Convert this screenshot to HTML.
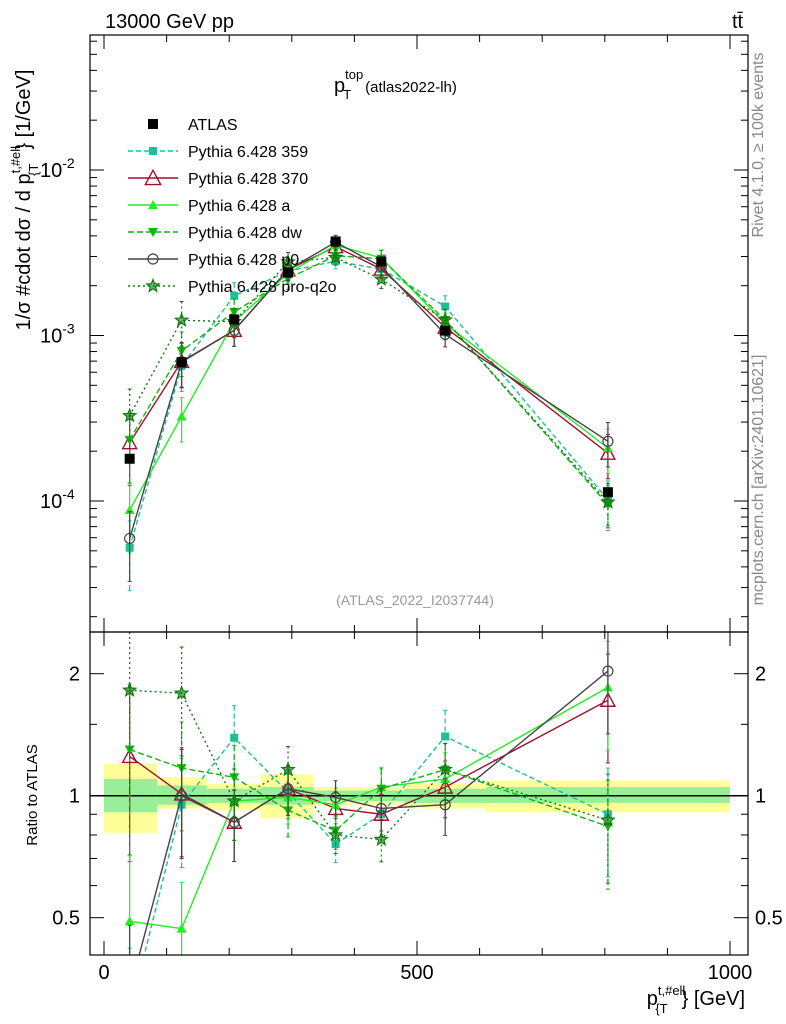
<!DOCTYPE html>
<html><head><meta charset="utf-8"><style>
html,body{margin:0;padding:0;background:#fff;width:786px;height:1024px;overflow:hidden;position:relative;}
svg{display:block;font-family:"Liberation Sans",sans-serif;}
</style></head><body>
<svg id="chart" style="position:absolute;left:0;top:0" width="786" height="1024" viewBox="0 0 786 1024" xmlns="http://www.w3.org/2000/svg"></svg>
<script>
const categories = [41, 124, 208, 294, 370, 443, 545, 805];
const binEdges = [0, 85, 165, 250, 335, 405, 480, 610, 1000];
const atlasValues = [1.8e-4, 6.9e-4, 1.25e-3, 2.4e-3, 3.7e-3, 2.8e-3, 1.07e-3, 1.13e-4];
const bandTotalUp = [1.20, 1.11, 1.07, 1.13, 1.05, 1.05, 1.07, 1.09];
const bandTotalDn = [0.81, 0.93, 0.92, 0.88, 0.95, 0.95, 0.93, 0.91];
const bandStatUp = [1.10, 1.06, 1.04, 1.05, 1.03, 1.03, 1.04, 1.05];
const bandStatDn = [0.91, 0.95, 0.96, 0.95, 0.97, 0.97, 0.96, 0.96];
const ratio359 = [0.29, 0.95, 1.39, 1.02, 0.76, 0.90, 1.40, 0.90];
const ratio370 = [1.25, 1.01, 0.86, 1.04, 0.93, 0.90, 1.05, 1.72];
const ratioA = [0.49, 0.47, 0.97, 0.99, 0.95, 1.05, 1.10, 1.85];
const ratioDw = [1.30, 1.17, 1.11, 0.92, 0.82, 1.04, 1.16, 0.84];
const ratioP0 = [0.33, 1.00, 0.86, 1.04, 0.99, 0.93, 0.95, 2.03];
const ratioQ2o = [1.82, 1.79, 0.97, 1.16, 0.80, 0.78, 1.16, 0.87];
const relErr = [0.45, 0.30, 0.20, 0.14, 0.10, 0.12, 0.16, 0.30];

const svg = document.getElementById('chart');
const NS = 'http://www.w3.org/2000/svg';
function mk(tag, attrs, parent){const e=document.createElementNS(NS,tag);for(const k in attrs)e.setAttribute(k,attrs[k]);(parent||svg).appendChild(e);return e;}
const L=90,R=748,T=35,MB=632,RB=955;
const xS = v => 104 + v*0.626;
const yMain = v => 170 - (Math.log10(v)+2)*165.5;
const yRat = r => 795.7 - Math.log2(r)*122;
const cl = (y,a,b) => Math.max(a, Math.min(b, y));

const defs = mk('defs',{});
const c1 = mk('clipPath',{id:'cm'},defs); mk('rect',{x:L,y:T,width:R-L,height:MB-T},c1);
const c2 = mk('clipPath',{id:'cr'},defs); mk('rect',{x:L,y:MB,width:R-L,height:RB-MB},c2);

const gBand = mk('g',{'clip-path':'url(#cr)'});


for(let i=0;i<categories.length;i++){
  const x0=xS(binEdges[i]),x1=xS(binEdges[i+1]);
  const r1=mk('rect',{x:x0,y:yRat(bandTotalUp[i]),width:x1-x0,height:yRat(bandTotalDn[i])-yRat(bandTotalUp[i]),fill:'#ffff99'},gBand);
  
  
  const r2=mk('rect',{x:x0,y:yRat(bandStatUp[i]),width:x1-x0,height:yRat(bandStatDn[i])-yRat(bandStatUp[i]),fill:'#99ee99'},gBand);
  
  
}
mk('line',{x1:L,x2:R,y1:yRat(1),y2:yRat(1),stroke:'#000','stroke-width':1.5});

const series = [
 {name:'Pythia 6.428 359',key:'series-359',r:ratio359,color:'#1fbf9a',dash:'5,3',marker:'square'},
 {name:'Pythia 6.428 370',key:'series-370',r:ratio370,color:'#a01030',dash:'',marker:'opentri'},
 {name:'Pythia 6.428 a',key:'series-a',r:ratioA,color:'#22ee22',dash:'',marker:'tri'},
 {name:'Pythia 6.428 dw',key:'series-dw',r:ratioDw,color:'#11b511',dash:'6,3',marker:'tridown'},
 {name:'Pythia 6.428 p0',key:'series-p0',r:ratioP0,color:'#444444',dash:'',marker:'circle'},
 {name:'Pythia 6.428 pro-q2o',key:'series-pro-q2o',r:ratioQ2o,color:'#117a11',dash:'2,3',marker:'star'}
];
function marker(g,type,x,y,c,s){
  s=s||1;
  if(type==='square') return mk('rect',{x:x-4*s,y:y-4*s,width:8*s,height:8*s,fill:c},g);
  if(type==='bsquare') return mk('rect',{x:x-5,y:y-5,width:10,height:10,fill:c},g);
  if(type==='opentri') return mk('polygon',{points:`${x},${y-7*s} ${x-7*s},${y+6*s} ${x+7*s},${y+6*s}`,fill:'none',stroke:c,'stroke-width':1.4},g);
  if(type==='tri') return mk('polygon',{points:`${x},${y-5*s} ${x-5*s},${y+4*s} ${x+5*s},${y+4*s}`,fill:c},g);
  if(type==='tridown') return mk('polygon',{points:`${x},${y+5*s} ${x-5*s},${y-4*s} ${x+5*s},${y-4*s}`,fill:c},g);
  if(type==='circle') return mk('circle',{cx:x,cy:y,r:5*s,fill:'none',stroke:c,'stroke-width':1.2},g);
  if(type==='star'){let p=[];for(let k=0;k<10;k++){const rr=k%2?2.8*s:6.5*s,a=-Math.PI/2+k*Math.PI/5;p.push((x+rr*Math.cos(a)).toFixed(1)+','+(y+rr*Math.sin(a)).toFixed(1));}
    return mk('polygon',{points:p.join(' '),fill:c,'fill-opacity':0.6,stroke:c,'stroke-width':1.2},g);}
}
series.forEach(s=>{
  ['main','ratio'].forEach(panel=>{
    const g=mk('g',{'clip-path':panel==='main'?'url(#cm)':'url(#cr)'});
    
    
    const lo = panel==='main'?T:MB, hi = panel==='main'?MB:RB;
    const pts=categories.map((c,i)=>{
      const v = atlasValues[i]*s.r[i];
      return panel==='main'?[xS(c),yMain(v),cl(yMain(v*(1+relErr[i])),lo,hi),cl(yMain(Math.max(v*(1-relErr[i]),1e-6)),lo,hi)]
                           :[xS(c),yRat(s.r[i]),cl(yRat(s.r[i]*(1+relErr[i])),lo,hi),cl(yRat(Math.max(s.r[i]*(1-relErr[i]),0.05)),lo,hi)];
    });
    pts.forEach(p=>{
      mk('line',{x1:p[0],x2:p[0],y1:p[2],y2:p[3],stroke:s.color,'stroke-width':1.2,'stroke-dasharray':s.dash},g);
      mk('line',{x1:p[0]-2,x2:p[0]+2,y1:p[2],y2:p[2],stroke:s.color},g);
      mk('line',{x1:p[0]-2,x2:p[0]+2,y1:p[3],y2:p[3],stroke:s.color},g);
    });
    mk('polyline',{points:pts.map(p=>p[0]+','+p[1]).join(' '),fill:'none',stroke:s.color,'stroke-width':1.4,'stroke-dasharray':s.dash},g);
    pts.forEach(p=>{ if(p[1]>=lo-8 && p[1]<=hi+8) marker(g,s.marker,p[0],p[1],s.color); });
  });
});

const gD=mk('g',{'clip-path':'url(#cm)'});


categories.forEach((c,i)=>marker(gD,'bsquare',xS(c),yMain(atlasValues[i]),'#000'));

mk('rect',{x:L,y:T,width:R-L,height:MB-T,fill:'none',stroke:'#000','stroke-width':1.2});
mk('rect',{x:L,y:MB,width:R-L,height:RB-MB,fill:'none',stroke:'#000','stroke-width':1.2});

for(let d=-5;d<=-1;d++){for(let m=1;m<10;m++){const v=m*Math.pow(10,d);const y=yMain(v);if(y<T||y>MB)continue;const len=m===1?14:7;
  mk('line',{x1:L,x2:L+len,y1:y,y2:y,stroke:'#000'});mk('line',{x1:R,x2:R-len,y1:y,y2:y,stroke:'#000'});}}
[-2,-3,-4].forEach(d=>{const t=mk('text',{x:40,y:yMain(Math.pow(10,d))+7,'font-size':20});t.innerHTML=`10<tspan dy="-9" font-size="14">${d}</tspan>`;
  });
[0.4,0.5,0.6,0.7,0.8,0.9,1,1.5,2,3].forEach(r=>{const y=yRat(r);if(y<MB||y>RB)return;const big=[0.5,1,2].includes(r);const len=big?14:7;
  mk('line',{x1:L,x2:L+len,y1:y,y2:y,stroke:'#000'});mk('line',{x1:R,x2:R-len,y1:y,y2:y,stroke:'#000'});});
[[2,'2'],[1,'1'],[0.5,'0.5']].forEach(([r,s])=>{
  const t1=mk('text',{x:80,y:yRat(r)+7,'font-size':20,'text-anchor':'end'});t1.textContent=s;
  
  const t2=mk('text',{x:755,y:yRat(r)+7,'font-size':20});t2.textContent=s;
  });
for(let v=0;v<=1000;v+=100){const x=xS(v);const len=v%500===0?14:7;
  mk('line',{x1:x,x2:x,y1:RB,y2:RB-len,stroke:'#000'});mk('line',{x1:x,x2:x,y1:MB,y2:MB-len,stroke:'#000'});mk('line',{x1:x,x2:x,y1:MB,y2:MB+len,stroke:'#000'});mk('line',{x1:x,x2:x,y1:T,y2:T+len,stroke:'#000'});}
[0,500,1000].forEach(v=>{const t=mk('text',{x:xS(v),y:979,'font-size':20,'text-anchor':'middle'});t.textContent=v;
  });

const gL=mk('g',{});


const le=mk('g',{},gL);


marker(le,'bsquare',153,124,'#000');
mk('text',{x:188,y:130,'font-size':16},le).textContent='ATLAS';
series.forEach((s,i)=>{const y=151+i*27;const g=mk('g',{},gL);
  
  
  mk('line',{x1:128,x2:178,y1:y,y2:y,stroke:s.color,'stroke-width':1.4,'stroke-dasharray':s.dash},g);
  marker(g,s.marker,153,y,s.color,s.marker==='opentri'?1.1:1);
  mk('text',{x:188,y:y+6,'font-size':16},g).textContent=s.name;});
</script>
<svg style="position:absolute;left:0;top:0" width="786" height="1024">
<text x="105" y="28" font-size="20" font-family="Liberation Sans, sans-serif">13000 GeV pp</text>
<text x="732" y="28" font-size="20" font-family="Liberation Sans, sans-serif">tt̄</text>
<text x="334" y="92" font-size="20" font-family="Liberation Sans, sans-serif">p<tspan dy="-13" font-size="13">top</tspan><tspan dx="-20" dy="20" font-size="13">T</tspan><tspan dx="14" dy="-7" font-size="15">(atlas2022-lh)</tspan></text>
<text x="415" y="605" font-size="14" fill="#999" text-anchor="middle" font-family="Liberation Sans, sans-serif">(ATLAS_2022_I2037744)</text>
<text transform="translate(763,145) rotate(-90)" font-size="16" fill="#888" text-anchor="middle" font-family="Liberation Sans, sans-serif">Rivet 4.1.0, ≥ 100k events</text>
<text transform="translate(763,480) rotate(-90)" font-size="16" fill="#888" text-anchor="middle" font-family="Liberation Sans, sans-serif">mcplots.cern.ch [arXiv:2401.10621]</text>
<text transform="translate(30,200) rotate(-90)" font-size="20" text-anchor="middle" font-family="Liberation Sans, sans-serif">1/σ #cdot dσ / d p<tspan dy="-10" font-size="13">t,#ell</tspan><tspan dx="-30" dy="18" font-size="13">{T</tspan><tspan dx="14" dy="-8">} [1/GeV]</tspan></text>
<text transform="translate(37,795) rotate(-90)" font-size="15" text-anchor="middle" font-family="Liberation Sans, sans-serif">Ratio to ATLAS</text>
<text x="745" y="1005" font-size="20" text-anchor="end" font-family="Liberation Sans, sans-serif">p<tspan dy="-10" font-size="13">t,#ell</tspan><tspan dx="-30" dy="18" font-size="13">{T</tspan><tspan dx="14" dy="-8">} [GeV]</tspan></text>
</svg>
</body></html>
